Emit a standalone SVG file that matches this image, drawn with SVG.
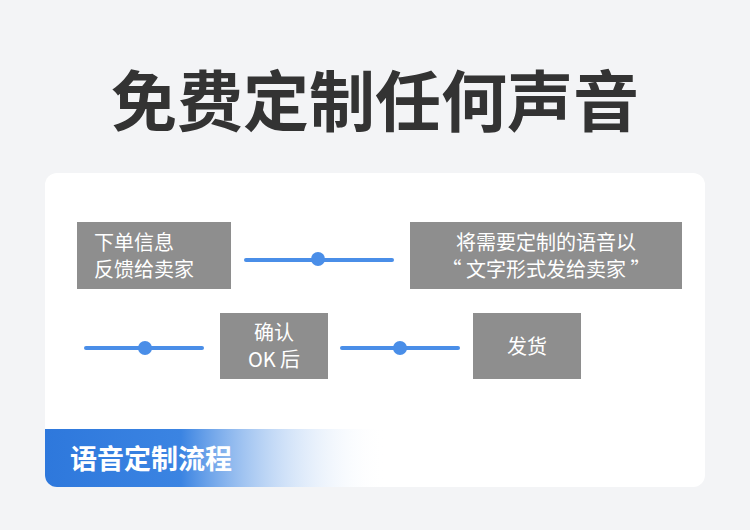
<svg xmlns="http://www.w3.org/2000/svg" width="750" height="530" viewBox="0 0 750 530">
<defs>
<linearGradient id="band" x1="0" y1="0" x2="1" y2="0">
<stop offset="0" stop-color="#2e78dc"/><stop offset="0.4" stop-color="#3b84e2"/><stop offset="1" stop-color="#ffffff" stop-opacity="0"/>
</linearGradient>
<clipPath id="cc"><rect x="45" y="173" width="660" height="314" rx="12"/></clipPath>
<style>
.box{fill:#8e8e8e}
.t{font-family:"Noto Sans CJK SC","Noto Sans",sans-serif;fill:#fff;font-size:20px}
.ln{stroke:#4a8ee8;stroke-width:4;stroke-linecap:round}
.dot{fill:#4a8ee8}
</style>
</defs>
<rect width="750" height="530" fill="#f3f4f6"/>
<text x="375" y="126" text-anchor="middle" font-family="Noto Sans CJK SC,sans-serif" font-weight="bold" font-size="66" fill="#333">免费定制任何声音</text>
<rect x="45" y="173" width="660" height="314" rx="12" fill="#fff"/>
<rect x="45" y="429" width="340" height="58" fill="url(#band)" clip-path="url(#cc)"/>
<text x="70" y="469" font-family="Noto Sans CJK SC,sans-serif" font-weight="bold" font-size="27" fill="#fff">语音定制流程</text>
<g id="connectors">
<line class="ln" x1="246" y1="260" x2="392" y2="260"/><circle class="dot" cx="318" cy="259" r="7"/>
<line class="ln" x1="86" y1="348" x2="202" y2="348"/><circle class="dot" cx="145" cy="348" r="7"/>
<line class="ln" x1="342" y1="348" x2="458" y2="348"/><circle class="dot" cx="400" cy="348" r="7"/>
</g>
<g id="n1"><rect class="box" x="77" y="222" width="154" height="67"/>
<text class="t" x="94" y="250">下单信息</text><text class="t" x="94" y="277">反馈给卖家</text></g>
<g id="n2"><rect class="box" x="410" y="222" width="272" height="67"/>
<text class="t" x="546" y="250" text-anchor="middle">将需要定制的语音以</text><text class="t" x="546" y="277" text-anchor="middle">“ 文字形式发给卖家 ”</text></g>
<g id="n3"><rect class="box" x="220" y="313" width="108" height="66"/>
<text class="t" x="274" y="340" text-anchor="middle">确认</text><text class="t" x="274" y="367" text-anchor="middle">OK 后</text></g>
<g id="n4"><rect class="box" x="473" y="313" width="108" height="66"/>
<text class="t" x="527" y="354" text-anchor="middle">发货</text></g>
</svg>
